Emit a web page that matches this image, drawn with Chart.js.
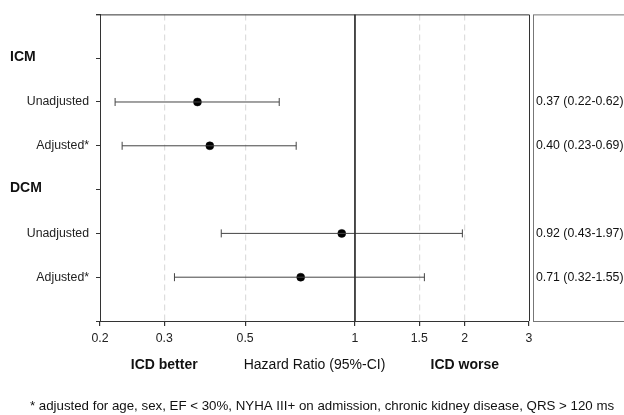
<!DOCTYPE html>
<html>
<head>
<meta charset="utf-8">
<script src="https://cdn.jsdelivr.net/npm/chart.js@4.4.1/dist/chart.umd.min.js"></script>
<style>
  body { margin: 0; background: #fff; }
  #wrap { width: 624px; height: 415px; position: relative; }
</style>
</head>
<body>
<div id="wrap"><canvas id="forestChart"></canvas></div>
<script>
// rows from top (0) to bottom (7)
const rowLabels = ["", "", "Unadjusted", "Adjusted*", "", "Unadjusted", "Adjusted*", ""];
const groupLabels = ["ICM", "DCM"];
const groupRows = [1, 4];

// hazard ratios with 95% CI
const estRows = [2, 3, 5, 6];
const hazardRatio = [0.37, 0.40, 0.92, 0.71];
const lowerCI = [0.22, 0.23, 0.43, 0.32];
const upperCI = [0.62, 0.69, 1.97, 1.55];

const xTicks = [0.2, 0.3, 0.5, 1, 1.5, 2, 3];
const footnote = "* adjusted for age, sex, EF < 30%, NYHA III+ on admission, chronic kidney disease, QRS > 120 ms";

const FONT = "'Liberation Sans', Arial, sans-serif";

// one line dataset per CI, caps are rotated 'line' points
const ciSets = estRows.map((row, i) => ({
  type: "line",
  data: [{ x: lowerCI[i], y: row }, { x: upperCI[i], y: row }],
  borderColor: "#444",
  borderWidth: 1,
  pointStyle: "line",
  pointRotation: 90,
  pointRadius: 4,
  pointBorderColor: "#444",
  pointBorderWidth: 1,
  fill: false,
}));

const refLine = {
  type: "line",
  data: [{ x: 1, y: 0 }, { x: 1, y: 7 }],
  borderColor: "#333",
  borderWidth: 1,
  pointRadius: 0,
};

const pointSet = {
  type: "scatter",
  data: estRows.map((row, i) => ({ x: hazardRatio[i], y: row })),
  backgroundColor: "#000",
  borderColor: "#000",
  pointRadius: 4,
  borderWidth: 0.5,
};

// frame, right-hand panel, group labels and axis texts
const extras = {
  id: "extras",
  afterDraw(chart) {
    const { ctx, chartArea, scales } = chart;
    const { left, right, top, bottom } = chartArea;
    ctx.save();
    ctx.strokeStyle = "#333";
    ctx.lineWidth = 1;
    ctx.beginPath();
    ctx.moveTo(left - 4, top + 0.5);
    ctx.lineTo(right + 0.5, top + 0.5);
    ctx.lineTo(right + 0.5, bottom);
    ctx.stroke();

    // right panel
    ctx.strokeStyle = "#777";
    ctx.strokeRect(right + 4.5, top + 0.5, 200, bottom - top);
    ctx.fillStyle = "#111";
    ctx.font = "12.3px " + FONT;
    ctx.textBaseline = "middle";
    ctx.textAlign = "left";
    estRows.forEach((row, i) => {
      const txt = hazardRatio[i].toFixed(2) + " (" + lowerCI[i].toFixed(2) + "-" + upperCI[i].toFixed(2) + ")";
      ctx.fillText(txt, right + 7, scales.y.getPixelForValue(row));
    });

    // group labels
    ctx.font = "bold 14px " + FONT;
    groupLabels.forEach((g, i) => {
      ctx.fillText(g, 10, scales.y.getPixelForValue(groupRows[i]) - 1);
    });

    // x texts
    const ty = 365;
    ctx.textAlign = "center";
    ctx.fillText("ICD better", scales.x.getPixelForValue(0.3), ty);
    ctx.fillText("ICD worse", scales.x.getPixelForValue(2), ty);
    ctx.font = "14px " + FONT;
    ctx.fillText("Hazard Ratio (95%-CI)", (left + right) / 2, ty);

    ctx.font = "13.3px " + FONT;
    ctx.fillText(footnote, 322, 406);
    ctx.restore();
  },
};

new Chart(document.getElementById("forestChart"), {
  data: { datasets: [refLine, ...ciSets, pointSet] },
  options: {
    responsive: true,
    maintainAspectRatio: false,
    animation: false,
    layout: { padding: { top: 12, right: 95, bottom: 0, left: 0 } },
    plugins: { legend: { display: false }, tooltip: { enabled: false } },
    scales: {
      x: {
        type: "logarithmic",
        min: 0.2,
        max: 3,
        afterBuildTicks: (scale) => {
          scale.ticks = xTicks.map((v) => ({ value: v }));
        },
        afterFit: (scale) => { scale.height = 94; },
        ticks: {
          autoSkip: false,
          maxRotation: 0,
          padding: 5,
          color: "#222",
          font: { family: FONT, size: 12.3 },
          callback: (v) => String(v),
        },
        grid: {
          color: (c) => (c.tick && [0.3, 0.5, 1.5, 2].includes(c.tick.value) ? "#ddd" : "rgba(0,0,0,0)"),
          tickColor: "#333",
          tickLength: 5,
          lineWidth: 1.2,
        },
        border: { color: "#333", width: 1, dash: [6, 4] },
      },
      y: {
        type: "linear",
        min: 0,
        max: 7,
        reverse: true,
        afterFit: (scale) => { scale.width = 100; },
        afterBuildTicks: (scale) => {
          scale.ticks = rowLabels.map((_, i) => ({ value: i }));
        },
        ticks: {
          autoSkip: false,
          padding: 7,
          color: "#222",
          font: { family: FONT, size: 12.3 },
          callback: (v) => rowLabels[v],
        },
        grid: { drawOnChartArea: false, tickColor: "#333", tickLength: 4 },
        border: { color: "#333", width: 1 },
      },
    },
  },
  plugins: [extras],
});
</script>
</body>
</html>
